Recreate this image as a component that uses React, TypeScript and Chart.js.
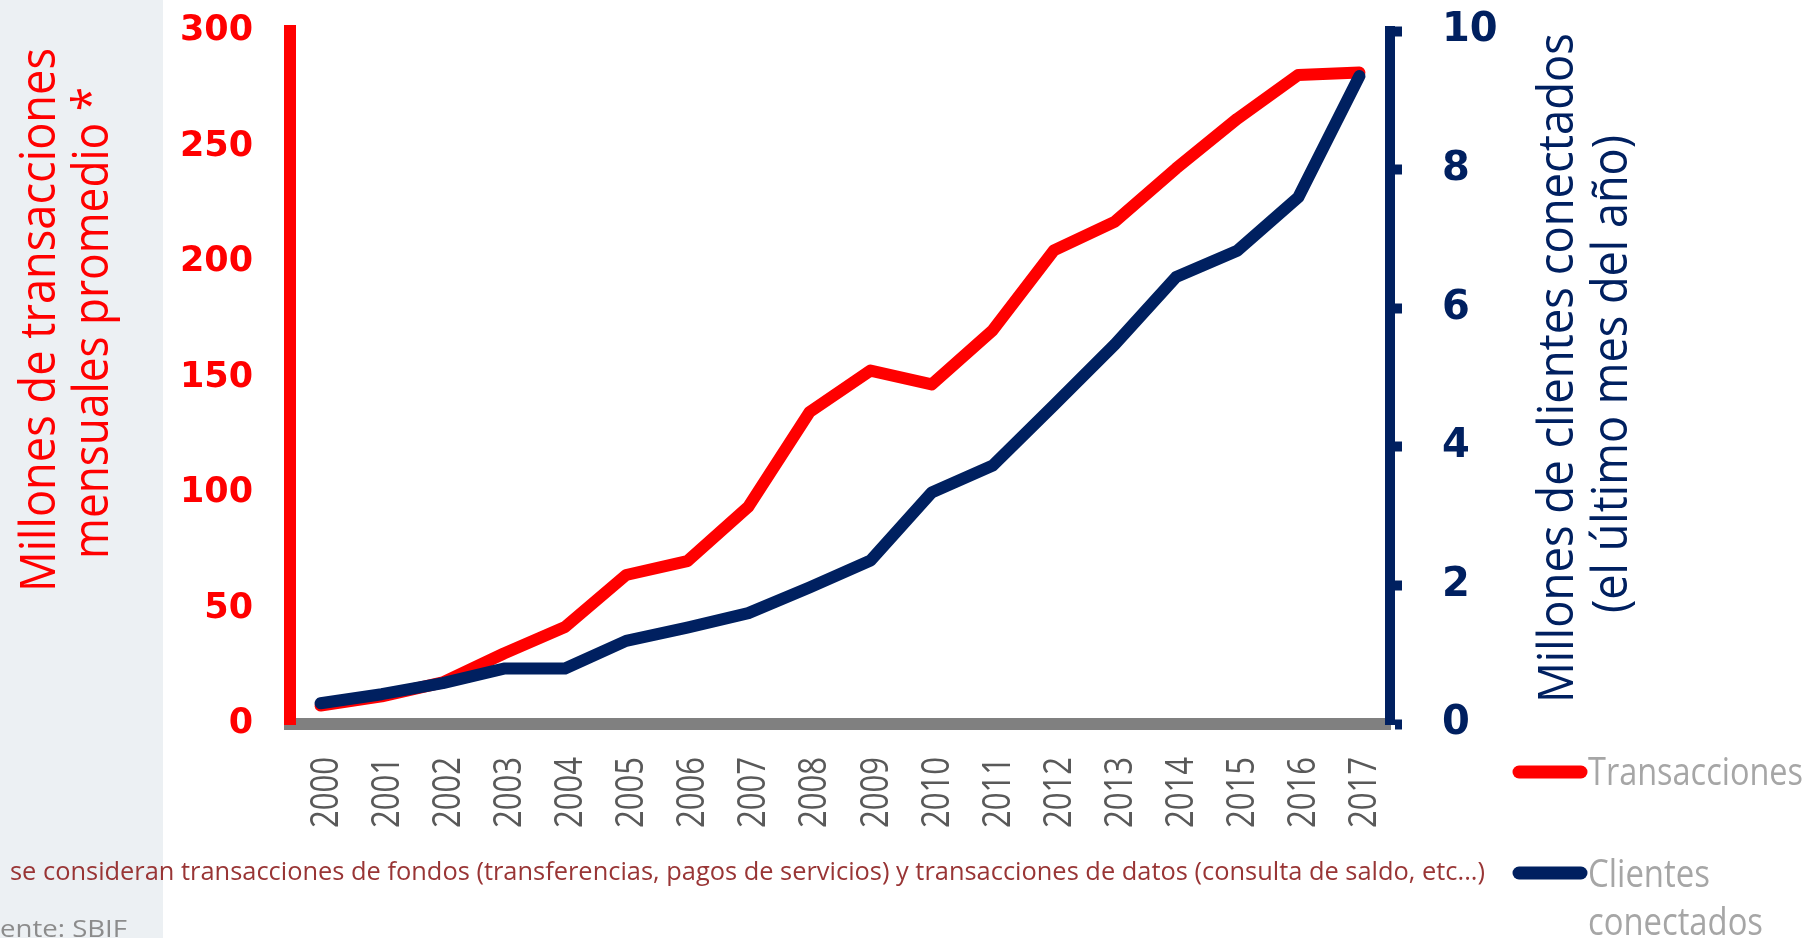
import React, { useEffect, useRef } from "react";
import { Chart, registerables } from "chart.js";

Chart.register(...registerables);

// ---------- data ----------
const years = ["2000", "2001", "2002", "2003", "2004", "2005", "2006", "2007", "2008", "2009", "2010", "2011", "2012", "2013", "2014", "2015", "2016", "2017"];
const transacciones = [8, 12, 18, 30.5, 42, 64.5, 70.5, 94, 135, 153, 147, 170.5, 205, 217.5, 240.5, 262, 281, 282];
const clientes = [0.3, 0.43, 0.59, 0.8, 0.8, 1.2, 1.39, 1.6, 1.97, 2.36, 3.34, 3.73, 4.6, 5.48, 6.45, 6.83, 7.6, 9.35];

const leftMax = 300;
const leftStep = 50;
const rightMax = 10;
const rightStep = 2;

const leftTitle = ["Millones de transacciones", "mensuales promedio *"];
const rightTitle = ["Millones de clientes conectados", "(el último mes del año)"];
const legendTrans = "Transacciones";
const legendClientes = ["Clientes", "conectados"];
const footnote = "se consideran transacciones de fondos (transferencias, pagos de servicios) y transacciones de datos (consulta de saldo, etc...)";
const source = "ente: SBIF";

// ---------- styles ----------
const RED = "#FF0000";
const NAVY = "#002060";
const GRAY_AXIS = "#808080";
const W = 1809;
const H = 938;
const COND = '"Open Sans", "Liberation Sans", sans-serif';

function drawText(
  ctx: CanvasRenderingContext2D,
  s: string,
  x: number,
  y: number,
  o: { font: string; color: string; width?: number; align: CanvasTextAlign; rot?: number; baseline?: CanvasTextBaseline }
) {
  ctx.save();
  ctx.translate(x, y);
  if (o.rot) ctx.rotate(o.rot);
  ctx.font = o.font;
  ctx.fillStyle = o.color;
  ctx.textBaseline = o.baseline || "alphabetic";
  ctx.textAlign = o.align;
  const w = ctx.measureText(s).width;
  if (o.width && w > 0) ctx.scale(o.width / w, 1);
  ctx.fillText(s, 0, 0);
  ctx.restore();
}

const decorPlugin = {
  id: "decor",
  beforeDraw(chart: any) {
    const ctx = chart.ctx as CanvasRenderingContext2D;
    ctx.save();
    ctx.fillStyle = "#FFFFFF";
    ctx.fillRect(0, 0, W, H);
    ctx.fillStyle = "#ECF0F3";
    ctx.fillRect(0, 0, 163, H);
    ctx.restore();
  },
  afterDraw(chart: any) {
    const ctx = chart.ctx as CanvasRenderingContext2D;
    const up = -Math.PI / 2;

    // left axis title
    drawText(ctx, leftTitle[0], 55, 320, { font: `49px ${COND}`, color: RED, width: 544, align: "center", rot: up });
    drawText(ctx, leftTitle[1], 108, 323, { font: `49px ${COND}`, color: RED, width: 472, align: "center", rot: up });

    // right axis title
    drawText(ctx, rightTitle[0], 1573, 368, { font: `50px ${COND}`, color: NAVY, width: 670, align: "center", rot: up });
    drawText(ctx, rightTitle[1], 1627, 374, { font: `50px ${COND}`, color: NAVY, width: 478, align: "center", rot: up });

    // x tick labels (rotated, condensed)
    const xs = chart.scales.x;
    xs.ticks.forEach((_t: any, i: number) => {
      const px = xs.getPixelForTick(i);
      drawText(ctx, years[i], px + 17, 757, { font: `38px ${COND}`, color: "#595959", width: 71, align: "right", rot: up });
    });

    // legend
    ctx.save();
    ctx.lineCap = "round";
    ctx.lineWidth = 13;
    ctx.strokeStyle = RED;
    ctx.beginPath();
    ctx.moveTo(1519, 772);
    ctx.lineTo(1581, 772);
    ctx.stroke();
    ctx.strokeStyle = NAVY;
    ctx.beginPath();
    ctx.moveTo(1519, 873);
    ctx.lineTo(1581, 873);
    ctx.stroke();
    ctx.restore();
    drawText(ctx, legendTrans, 1588, 785, { font: `38px ${COND}`, color: "#A6A6A6", width: 215, align: "left" });
    drawText(ctx, legendClientes[0], 1588, 887, { font: `38px ${COND}`, color: "#A6A6A6", width: 122, align: "left" });
    drawText(ctx, legendClientes[1], 1588, 935, { font: `38px ${COND}`, color: "#A6A6A6", width: 175, align: "left" });

    // footnote and source
    drawText(ctx, footnote, 10, 880, { font: `26px ${COND}`, color: "#993535", width: 1475, align: "left" });
    drawText(ctx, source, 0, 937, { font: `24px ${COND}`, color: "#8C8C8C", width: 127, align: "left" });
  },
};

const noPad = (s: any) => {
  s.paddingTop = 0;
  s.paddingBottom = 0;
  s.paddingLeft = 0;
  s.paddingRight = 0;
};

export default function App() {
  const ref = useRef<HTMLCanvasElement | null>(null);

  useEffect(() => {
    document.body.style.margin = "0";
    const canvas = ref.current;
    if (!canvas) return;
    const chart = new Chart(canvas, {
      type: "line",
      data: {
        labels: years,
        datasets: [
          {
            label: legendTrans,
            data: transacciones,
            yAxisID: "y",
            borderColor: RED,
            backgroundColor: RED,
            borderWidth: 12,
            pointRadius: 0,
            tension: 0,
            borderCapStyle: "round",
            borderJoinStyle: "round",
            order: 2,
          },
          {
            label: legendClientes.join(" "),
            data: clientes,
            yAxisID: "y1",
            borderColor: NAVY,
            backgroundColor: NAVY,
            borderWidth: 12,
            pointRadius: 0,
            tension: 0,
            borderCapStyle: "round",
            borderJoinStyle: "round",
            order: 1,
          },
        ],
      },
      options: {
        responsive: false,
        animation: false,
        devicePixelRatio: 1,
        layout: { padding: { top: 31, left: 0, right: 0, bottom: 0 } },
        plugins: {
          legend: { display: false },
          tooltip: { enabled: false },
          title: { display: false },
        },
        scales: {
          x: {
            type: "category",
            offset: true,
            grid: { display: false, drawTicks: false },
            border: { display: true, color: GRAY_AXIS, width: 12 },
            ticks: { display: false },
            afterFit: (s: any) => {
              s.height = H - 724;
              noPad(s);
            },
          },
          y: {
            type: "linear",
            position: "left",
            min: 0,
            max: leftMax,
            grid: { display: false, drawTicks: false },
            border: { display: true, color: RED, width: 12 },
            ticks: {
              stepSize: leftStep,
              color: RED,
              padding: 37,
              font: { family: '"DejaVu Sans", sans-serif', weight: "bold", size: 35 },
            },
            afterFit: (s: any) => {
              s.width = 290;
              noPad(s);
            },
          },
          y1: {
            type: "linear",
            position: "right",
            min: 0,
            max: rightMax,
            grid: {
              display: true,
              drawOnChartArea: false,
              drawTicks: true,
              tickLength: 12,
              tickWidth: 10,
              tickColor: NAVY,
              color: NAVY,
            },
            border: { display: true, color: NAVY, width: 10 },
            ticks: {
              stepSize: rightStep,
              color: NAVY,
              padding: 40,
              font: { family: '"DejaVu Sans", sans-serif', weight: "bold", size: 40 },
            },
            afterFit: (s: any) => {
              s.width = W - 1390;
              noPad(s);
            },
          },
        },
      },
      plugins: [decorPlugin],
    } as any);
    return () => chart.destroy();
  }, []);

  return (
    <div style={{ position: "absolute", left: 0, top: 0, width: W, height: H, overflow: "hidden", background: "#fff" }}>
      <canvas ref={ref} width={W} height={H} style={{ display: "block", width: W, height: H }} />
    </div>
  );
}
